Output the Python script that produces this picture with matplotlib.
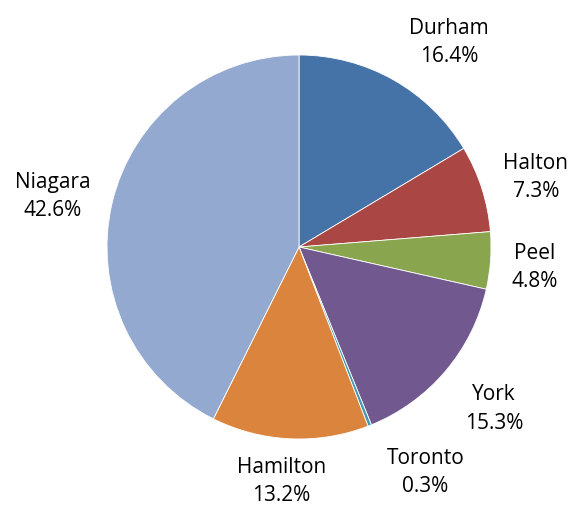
import numpy as np
from matplotlib import pyplot as plt

regions = ['Durham', 'Halton', 'Peel', 'York', 'Toronto', 'Hamilton', 'Niagara']
shares = [16.4, 7.3, 4.8, 15.3, 0.3, 13.2, 42.6]
colors = ['#4572A7', '#AA4643', '#89A54E', '#71588F', '#4198AF', '#DB843D', '#93A9CF']

labels = ['%s\n%.1f%%' % (r, s) for r, s in zip(regions, shares)]

# label nudges in pixels (right, up), Excel-style placement
nudges = [(28, -10), (1, -5), (-11, -2), (6, -1), (35, 6), (-6, 14), (-5, -5)]

R = 192.0  # pie radius in pixels

fig = plt.figure(figsize=(5.73, 5.10), dpi=100)
ax = fig.add_axes([0, 0, 1, 1])

wedges, texts = ax.pie(shares, labels=labels, colors=colors, startangle=90,
                       counterclock=False, labeldistance=1.29,
                       wedgeprops=dict(edgecolor='white', linewidth=0.6),
                       textprops=dict(fontsize=15, family='Open Sans', color='black'))
for t, (dx, dy) in zip(texts, nudges):
    x, y = t.get_position()
    t.set_position((x + dx / R, y + dy / R))
    t.set_ha('center')
    t.set_va('center')
    t.set_linespacing(1.45)

# pie centre at (299, 248) px
ax.set_xlim(-299 / R, (573 - 299) / R)
ax.set_ylim(-(510 - 248) / R, 248 / R)
ax.axis('off')

plt.savefig('out.png', dpi=100)
